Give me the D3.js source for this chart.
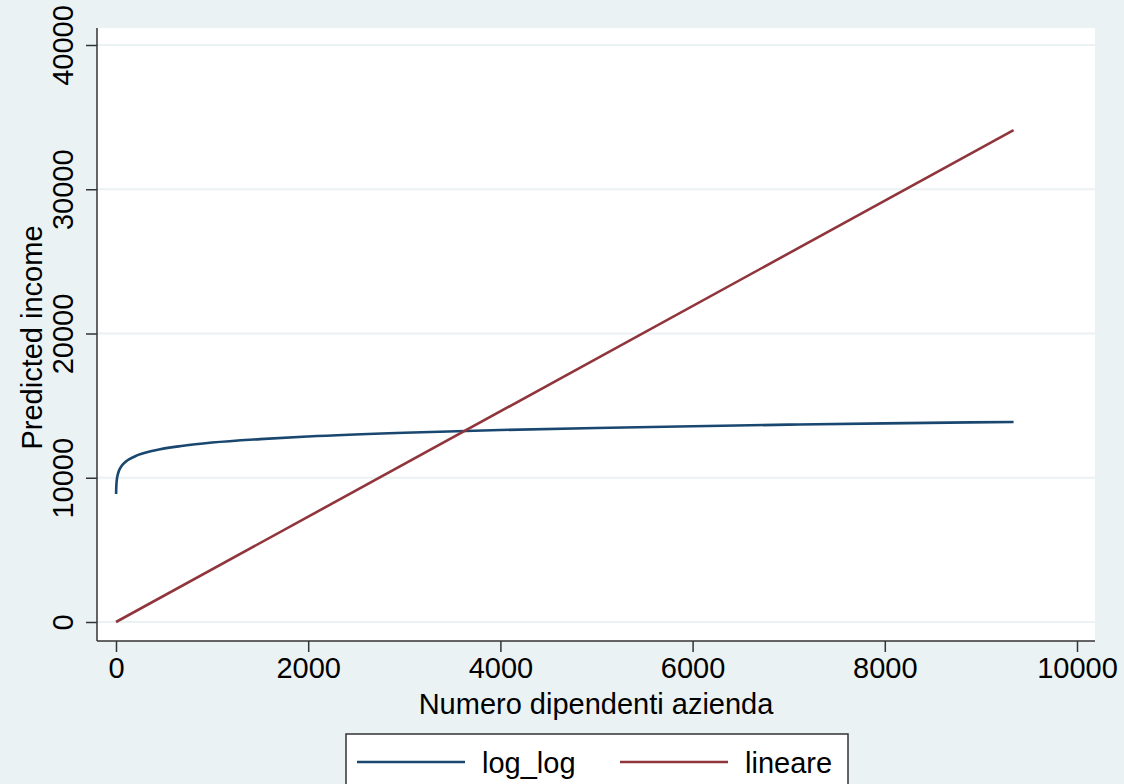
<!DOCTYPE html>
<html>
<head>
<meta charset="utf-8">
<script src="https://cdn.jsdelivr.net/npm/d3@7"></script>
<style>
  html, body { margin: 0; padding: 0; background: #eaf2f3; }
  svg { display: block; font-family: "Liberation Sans", Arial, Helvetica, sans-serif; }
</style>
</head>
<body>
<div id="chart"></div>
<script>
// Predicted income vs company size: log-log fit and linear fit
const xTicks = [0, 2000, 4000, 6000, 8000, 10000]
const yTicks = [0, 10000, 20000, 30000, 40000]

// log_log series
const logEmployees = [1, 2, 5, 10, 20, 50, 100, 200, 400, 700, 1000, 1500, 2000, 3000, 4000, 5000, 6000, 7000, 8000, 9340]
const logIncome = [8870, 9180, 9600, 9930, 10270, 10740, 11110, 11490, 11890, 12220, 12440, 12680, 12860, 13120, 13310, 13450, 13570, 13680, 13770, 13870]

// lineare series
const linEmployees = [0, 9340]
const linIncome = [0, 34100]

const seriesNames = ["log_log", "lineare"]
const seriesColors = ["#1a476f", "#90353b"]

const W = 1124, H = 784
const plot = { left: 97, right: 1095, top: 28, bottom: 641 }
const fontSize = "29px"

const svg = d3.select("#chart").append("svg")
  .attr("width", W)
  .attr("height", H)

svg.append("rect")
  .attr("width", W).attr("height", H)
  .attr("fill", "#eaf2f3")

svg.append("rect")
  .attr("x", plot.left).attr("y", plot.top)
  .attr("width", plot.right - plot.left)
  .attr("height", plot.bottom - plot.top)
  .attr("fill", "#ffffff")

const x = d3.scaleLinear().domain([0, 10000]).range([116, 1077])
const y = d3.scaleLinear().domain([0, 40000]).range([622, 45])

// Grid lines
svg.append("g")
  .selectAll("line")
  .data(yTicks)
  .enter()
  .append("line")
  .attr("x1", plot.left)
  .attr("x2", plot.right)
  .attr("y1", d => y(d))
  .attr("y2", d => y(d))
  .attr("stroke", "#eaf2f3")
  .attr("stroke-width", 2)

// Axes
const yAxis = svg.append("g")
  .attr("transform", `translate(${plot.left},0)`)
  .call(d3.axisLeft(y).tickValues(yTicks).tickSize(11).tickSizeOuter(0).tickFormat(d3.format("d")))

yAxis.select(".domain").attr("d", `M0,${plot.top}V${plot.bottom}`)
yAxis.selectAll("text")
  .attr("transform", "rotate(-90)")
  .attr("x", 0)
  .attr("y", -24)
  .attr("dy", "0")
  .style("text-anchor", "middle")

const xAxis = svg.append("g")
  .attr("transform", `translate(0,${plot.bottom})`)
  .call(d3.axisBottom(x).tickValues(xTicks).tickSize(11).tickPadding(5).tickSizeOuter(0).tickFormat(d3.format("d")))

xAxis.select(".domain").attr("d", `M${plot.left},0H${plot.right}`)

svg.selectAll(".tick text")
  .style("font-size", fontSize)
  .attr("fill", "#000")
svg.selectAll(".tick line").attr("stroke", "#333").attr("stroke-width", 1.5)
svg.selectAll(".domain").attr("stroke", "#333").attr("stroke-width", 1.5)

// Axis titles
svg.append("text")
  .attr("transform", `translate(42,${(plot.top + plot.bottom) / 2 + 3}) rotate(-90)`)
  .attr("text-anchor", "middle")
  .style("font-size", fontSize)
  .text("Predicted income")

svg.append("text")
  .attr("x", 596)
  .attr("y", 714)
  .attr("text-anchor", "middle")
  .style("font-size", fontSize)
  .text("Numero dipendenti azienda")

// Lines
const line = d3.line()
  .x(d => x(d[0]))
  .y(d => y(d[1]))
  .curve(d3.curveMonotoneX)

const series = [
  d3.zip(logEmployees, logIncome),
  d3.zip(linEmployees, linIncome)
]

series.forEach((pts, i) => {
  svg.append("path")
    .datum(pts)
    .attr("d", line)
    .attr("fill", "none")
    .attr("stroke", seriesColors[i])
    .attr("stroke-width", 2.6)
})

// Legend
svg.append("rect")
  .attr("x", 346).attr("y", 734)
  .attr("width", 502).attr("height", 60)
  .attr("fill", "#ffffff")
  .attr("stroke", "#333")
  .attr("stroke-width", 1.5)

const legendX = [357, 620]
seriesNames.forEach((name, i) => {
  svg.append("line")
    .attr("x1", legendX[i]).attr("x2", legendX[i] + 108)
    .attr("y1", 762).attr("y2", 762)
    .attr("stroke", seriesColors[i])
    .attr("stroke-width", 2.6)
  svg.append("text")
    .attr("x", legendX[i] + 125)
    .attr("y", 773)
    .style("font-size", fontSize)
    .text(name)
})
</script>
</body>
</html>
